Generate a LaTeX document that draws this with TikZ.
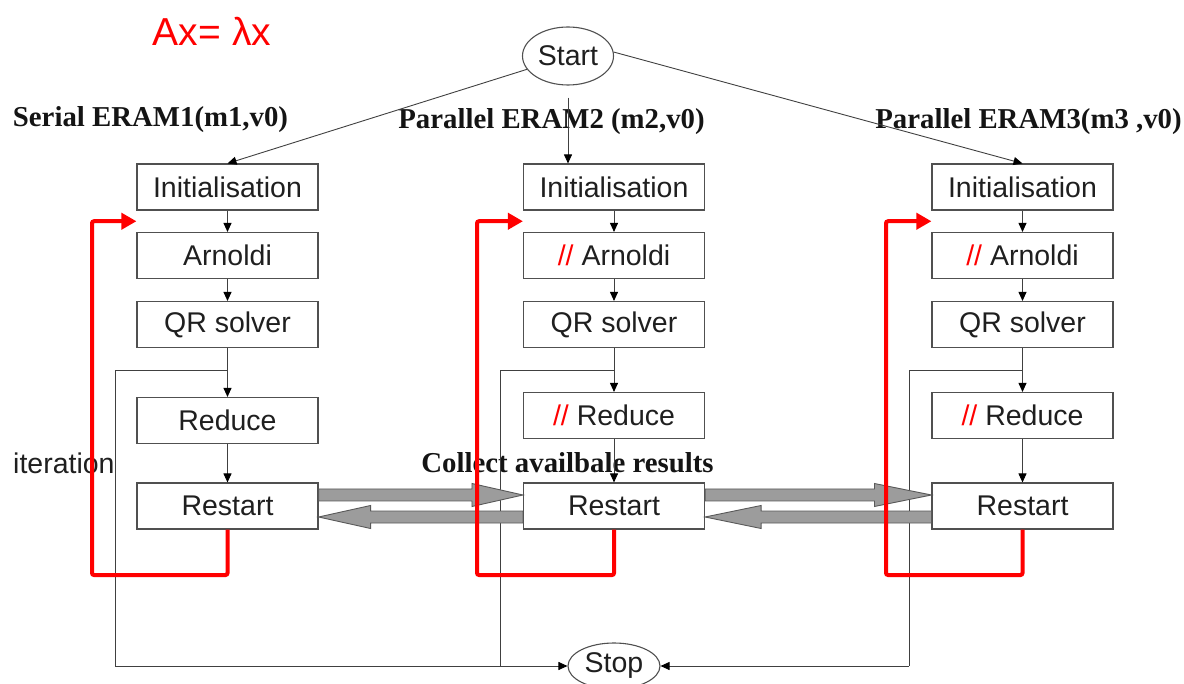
\documentclass[tikz,border=0pt]{standalone}
\usepackage{fontspec}
\setmainfont{Liberation Serif}
\newfontfamily\sansf{Liberation Sans}
\usetikzlibrary{shapes.geometric,arrows.meta,calc}
\definecolor{boxline}{HTML}{505050}
\definecolor{grayfill}{HTML}{9C9C9C}
\begin{document}
\begin{tikzpicture}[x=1pt,y=-1pt,
  box/.style={draw=boxline, line width=1.1pt, minimum width=181pt, minimum height=46pt, inner sep=0pt,
              font=\sansf\fontsize{28.5}{30}\selectfont, text=black!88},
  oval/.style={ellipse, draw=boxline, line width=1.1pt, inner sep=0pt,
              font=\sansf\fontsize{28.5}{30}\selectfont, text=black!88},
  lbl/.style={font=\bfseries\fontsize{28.8}{30}\selectfont, inner sep=0pt, text=black!92},
  ln/.style={draw=black!75, line width=0.9pt},
  arr/.style={ln, -{Triangle[length=9pt,width=8pt,fill=black,color=black]}},
  redloop/.style={draw=red, line width=4pt, rounded corners=2pt, -{Triangle[length=15pt,width=16pt]}},
  garrow/.style={fill=grayfill, draw=black!65, line width=0.9pt}]
\useasboundingbox (0,0) rectangle (1184,684);

% labels
\node[font=\sansf\fontsize{39}{42}\selectfont, text=red, inner sep=0pt] (eq) at (212,31) {Ax= λx};
\node[lbl] (l1) at (150.5,120) {Serial ERAM1(m1,v0)};
\node[lbl] (l2) at (551.5,122) {Parallel ERAM2 (m2,v0)};
\node[lbl] (l3) at (1028.5,122) {Parallel ERAM3(m3 ,v0)};
\node[lbl] (l4) at (567.5,463) {Collect availbale results};
\node[font=\sansf\fontsize{28.5}{30}\selectfont, inner sep=0pt, anchor=west, text=black!88] (it) at (13,463) {iteration};

% start / stop
\node[oval, minimum width=91pt, minimum height=58pt] (start) at (568,56) {Start};
\node[oval, minimum width=92pt, minimum height=46pt] (stop) at (614,666) {Stop};

% column 1
\node[box] (i1) at (227.5,187) {Initialisation};
\node[box] (a1) at (227.5,255.5) {Arnoldi};
\node[box] (q1) at (227.5,324.5) {QR solver};
\node[box] (d1) at (227.5,420.5) {Reduce};
\node[box] (r1) at (227.5,506) {Restart};
% column 2
\node[box] (i2) at (614,187) {Initialisation};
\node[box] (a2) at (614,255.5) {{\color{red}//} Arnoldi};
\node[box] (q2) at (614,324.5) {QR solver};
\node[box] (d2) at (614,415.5) {{\color{red}//} Reduce};
\node[box] (r2) at (614,506) {Restart};
% column 3
\node[box] (i3) at (1022.5,187) {Initialisation};
\node[box] (a3) at (1022.5,255.5) {{\color{red}//} Arnoldi};
\node[box] (q3) at (1022.5,324.5) {QR solver};
\node[box] (d3) at (1022.5,415.5) {{\color{red}//} Reduce};
\node[box] (r3) at (1022.5,506) {Restart};

% start connectors
\draw[arr] (start.198) -- (i1.north);
\draw[arr] ($(start.south)+(0,12)$) -- (i2.north -| start.south);
\draw[arr] (start.5) -- (i3.north);

% vertical flow
\foreach \c in {1,2,3}{
  \draw[arr] (i\c) -- (a\c);
  \draw[arr] (a\c) -- (q\c);
  \draw[arr] (q\c) -- (d\c);
  \draw[arr] (d\c) -- (r\c);
  \coordinate (j\c) at ($(q\c.south)+(0,22.5)$);
  \coordinate (m\c) at ($(i\c.south)!0.5!(a\c.north)$);
}

% exit lines to stop
\coordinate (b1) at (115,666);
\coordinate (b2) at (500,666);
\coordinate (b3) at (909,666);
\draw[ln] (j1) -| (b1);
\draw[arr] (b1) -- (stop.west);
\draw[ln] (j2) -| (b2);
\draw[ln] (j3) -| (b3);
\draw[arr] (b3) -- (stop.east);

% gray exchange arrows
\filldraw[garrow] let \p1=(r1.east), \p2=(r2.west) in
  (\x1,\y1+5pt) -- (\x2-51pt,\y1+5pt) -- (\x2-51pt,\y1-0.5pt) -- (\x2,\y1+11pt)
  -- (\x2-51pt,\y1+22.5pt) -- (\x2-51pt,\y1+17pt) -- (\x1,\y1+17pt) -- cycle;
\filldraw[garrow] let \p1=(r1.east), \p2=(r2.west) in
  (\x2,\y1-5pt) -- (\x1+52pt,\y1-5pt) -- (\x1+52pt,\y1+0.5pt) -- (\x1,\y1-11pt)
  -- (\x1+52pt,\y1-22.5pt) -- (\x1+52pt,\y1-17pt) -- (\x2,\y1-17pt) -- cycle;
\filldraw[garrow] let \p1=(r2.east), \p2=(r3.west) in
  (\x1,\y1+5pt) -- (\x2-57pt,\y1+5pt) -- (\x2-57pt,\y1-0.5pt) -- (\x2,\y1+11pt)
  -- (\x2-57pt,\y1+22.5pt) -- (\x2-57pt,\y1+17pt) -- (\x1,\y1+17pt) -- cycle;
\filldraw[garrow] let \p1=(r2.east), \p2=(r3.west) in
  (\x2,\y1-5pt) -- (\x1+56pt,\y1-5pt) -- (\x1+56pt,\y1+0.5pt) -- (\x1,\y1-11pt)
  -- (\x1+56pt,\y1-22.5pt) -- (\x1+56pt,\y1-17pt) -- (\x2,\y1-17pt) -- cycle;

% red iteration loops
\draw[redloop] (r1.south) |- (92,575) |- (a1.west |- m1);
\draw[redloop] (r2.south) |- (477,575) |- (a2.west |- m2);
\draw[redloop] (r3.south) |- (886,575) |- (a3.west |- m3);
\end{tikzpicture}
\end{document}
